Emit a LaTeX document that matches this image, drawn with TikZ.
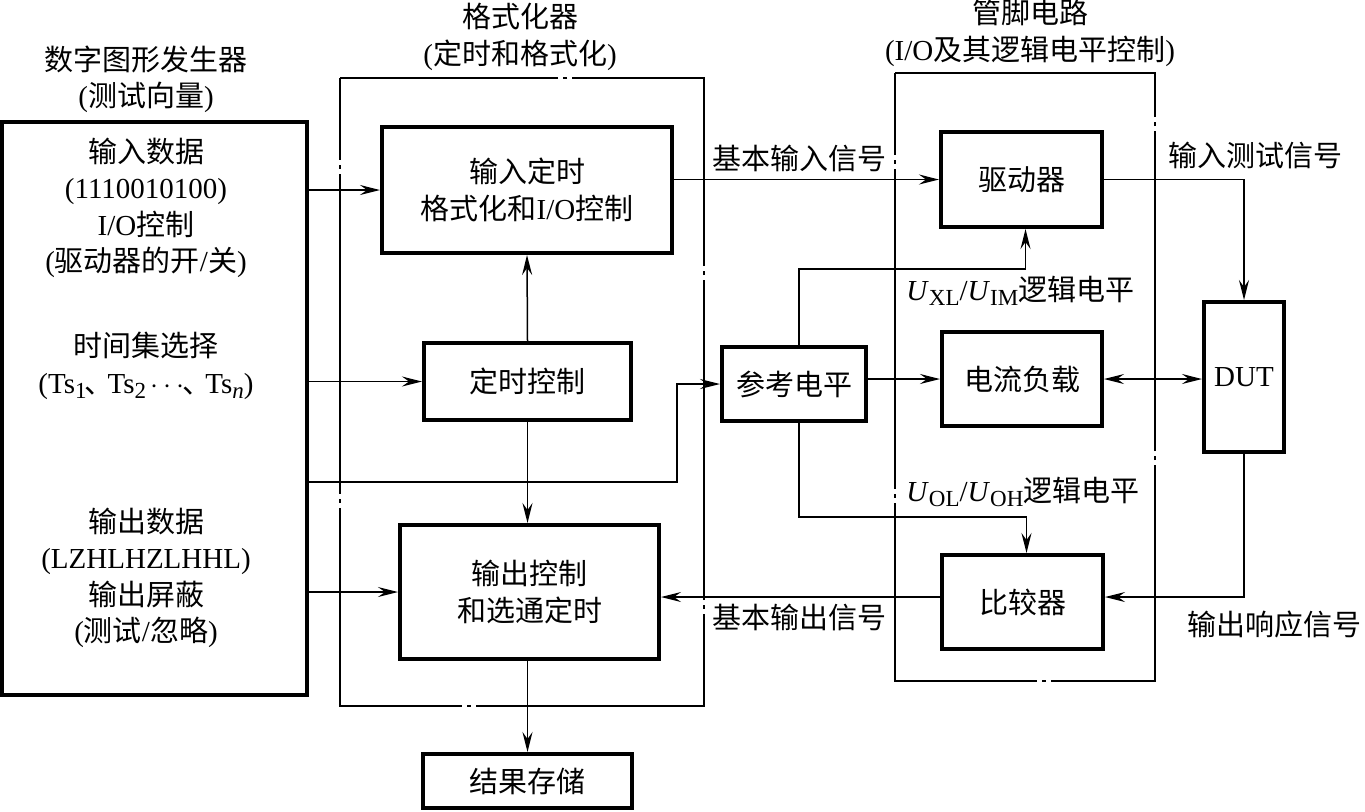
\documentclass[tikz,border=0pt]{standalone}
\usepackage{fontspec}
\setmainfont{Liberation Serif}
\newfontfamily\cjk{Noto Sans CJK SC}
\usetikzlibrary{arrows.meta}
\newcommand\zh[1]{{\cjk #1}}
\newcommand\sbs[1]{\raisebox{-0.4ex}{\fontsize{11.5}{11.5}\selectfont #1}}
\begin{document}
\begin{tikzpicture}[x=0.5pt,y=-0.5pt,
  every node/.style={font=\fontsize{14.5}{18.2}\selectfont, inner sep=0pt},
  blk/.style={draw, line width=2pt, align=center},
  ln/.style={line width=0.75pt},
  tip/.style={},
  arr/.style={ln, -{Stealth[length=10pt,width=5pt,inset=3.5pt]}},
  darr/.style={ln, {Stealth[length=10pt,width=5pt,inset=3.5pt]}-{Stealth[length=10pt,width=5pt,inset=3.5pt]}},
  frm/.style={line width=0.7pt, dash pattern=on 160pt off 2.5pt on 2pt off 2.5pt, dash phase=119pt},
  txt/.style={align=center}]
\useasboundingbox (0,0) rectangle (1365,811);

% frames
\draw[frm] (340,78) rectangle (704,706);
\draw[frm] (895,73) rectangle (1155,681);

% titles
\node[txt] (tpg) at (146,79) {\zh{数字图形发生器}\\(\zh{测试向量})};
\node[txt] (tfm) at (520,37) {\zh{格式化器}\\(\zh{定时和格式化})};
\node[txt] (tpin) at (1030,33) {\zh{管脚电路}\\(I/O\zh{及其逻辑电平控制})};

% pattern generator
\node[blk, minimum width=152.5pt, minimum height=286.5pt] (pg) at (154.5,408.5) {};
\node[txt] (pg1) at (146,208) {\zh{输入数据}\\(1110010100)\\I/O\zh{控制}\\(\zh{驱动器的开}/\zh{关})};
\node[txt] (pg2) at (146,366) {\zh{时间集选择}\\(Ts\sbs{1}\kern-1pt\zh{、}\kern-3pt Ts\sbs{2}\,$\cdots$\kern-1pt\zh{、}\kern-3pt Ts\sbs{\textit{n}})};
\node[txt] (pg3) at (146,578) {\zh{输出数据}\\(LZHLHZLHHL)\\\zh{输出屏蔽}\\(\zh{测试}/\zh{忽略})};

% formatter blocks
\node[blk, minimum width=145pt, minimum height=63pt] (b1) at (527,190) {\zh{输入定时}\\\zh{格式化和}I/O\zh{控制}};
\node[blk, minimum width=103.5pt, minimum height=38.5pt] (tc) at (527.5,381.5) {\zh{定时控制}};
\node[blk, minimum width=129.5pt, minimum height=67pt] (ob) at (529.5,592) {\zh{输出控制}\\\zh{和选通定时}};
\node[blk, minimum width=104.5pt, minimum height=27pt] (rs) at (527.5,781) {\zh{结果存储}};

% reference level and pin electronics
\node[blk, minimum width=72pt, minimum height=37pt] (ref) at (794,384) {\zh{参考电平}};
\node[blk, minimum width=80.5pt, minimum height=47.5pt] (drv) at (1021.5,179.5) {\zh{驱动器}};
\node[blk, minimum width=80pt, minimum height=47pt] (cl) at (1022,379) {\zh{电流负载}};
\node[blk, minimum width=80.5pt, minimum height=47pt] (cmp) at (1022.5,602) {\zh{比较器}};
\node[blk, minimum width=40pt, minimum height=75pt] (dut) at (1244,377) {DUT};

% labels
\node[anchor=west] (lb1) at (712,158) {\zh{基本输入信号}};
\node[anchor=west] (lb2) at (1168,155) {\zh{输入测试信号}};
\node[anchor=west] (lb3) at (906,291) {\textit{U}\sbs{XL}/\textit{U}\sbs{IM}\zh{逻辑电平}};
\node[anchor=west] (lb4) at (906,492) {\textit{U}\sbs{OL}/\textit{U}\sbs{OH}\zh{逻辑电平}};
\node[anchor=west] (lb5) at (712,617) {\zh{基本输出信号}};
\node[anchor=west] (lb6) at (1187,624) {\zh{输出响应信号}};

% helper coordinates
\coordinate (k1) at (677,482);
\coordinate (k2) at (900,269);
\coordinate (k3) at (900,517);
\coordinate (k4) at (900,597);

% connectors
\draw[arr] (b1.west -| pg.east) -- (b1.west);
\draw[arr] (tc.west -| pg.east) -- (tc.west);
\draw[arr] (ob.west -| pg.east) -- (ob.west);
\draw[arr] (k1 -| pg.east) -- (k1) |- (ref.west);
\draw[arr] (tc.north) -- (b1.south);
\draw[arr] (tc.south) -- (tc.south |- ob.north);
\draw[arr] (ob.south -| rs.north) -- (rs.north);
\draw[arr] (drv.west -| b1.east) -- (drv.west);
\draw[arr] (cl.west -| ref.east) -- (cl.west);
\draw[arr] ([xshift=2.5pt]ref.north) |- (k2) -| ([xshift=2pt]drv.south);
\draw[arr] ([xshift=2.5pt]ref.south) |- (k3) -| ([xshift=2pt]cmp.north);
\draw[arr] (drv.east) -| (dut.north);
\draw[darr] (cl.east) -- (cl.east -| dut.west);
\draw[arr] (dut.south) |- (k4 -| cmp.east);
\draw[arr] (k4 -| cmp.west) -- (k4 -| ob.east);
\end{tikzpicture}
\end{document}
